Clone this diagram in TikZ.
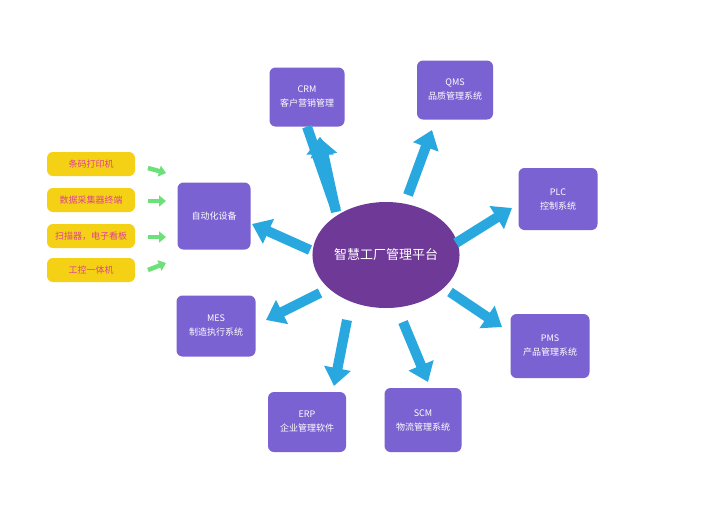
\documentclass[tikz,border=0pt]{standalone}
\usepackage{fontspec}
\setmainfont{Noto Sans CJK SC}
\usetikzlibrary{arrows.meta,shapes.geometric}
\definecolor{boxp}{HTML}{7B62D2}
\definecolor{ellp}{HTML}{6F3A97}
\definecolor{arrb}{HTML}{29A8E0}
\definecolor{yel}{HTML}{F5D116}
\definecolor{mag}{HTML}{E0409A}
\definecolor{grn}{HTML}{6EE07A}
\tikzset{
 sysbox/.style={fill=boxp,draw=none,rounded corners=6pt,text=white,font=\fontsize{9}{14}\selectfont,align=center,minimum width=77pt,minimum height=61pt,inner sep=1pt},
 ybox/.style={fill=yel,rounded corners=6pt,text=mag,font=\fontsize{9}{11}\selectfont,minimum width=88pt,minimum height=24pt,inner sep=1pt},
 bigarr/.style={draw=arrb,line width=10pt,-{Triangle[width=26pt,length=18pt]},shorten >=0pt},
 garr/.style={draw=grn,line width=4.5pt,-{Triangle[width=11pt,length=7pt]}}
}
\begin{document}
\begin{tikzpicture}[x=1pt,y=-1pt]
\useasboundingbox[fill=white] (0,0) rectangle (719,504);
\node[ellipse,fill=ellp,minimum width=138pt,minimum height=106pt,text=white,font=\fontsize{13}{15}\selectfont,inner sep=0] (c) at (386,255) {智慧工厂管理平台};
\node[sysbox,minimum width=75pt,minimum height=59pt] (crm) at (307,97) {CRM\\客户营销管理};
\node[sysbox,minimum width=76pt,minimum height=59pt] (qms) at (455,90) {QMS\\品质管理系统};
\node[sysbox,minimum width=79pt,minimum height=62pt] (plc) at (558,199) {PLC\\控制系统};
\node[sysbox,minimum width=79pt,minimum height=64pt] (pms) at (550,346) {PMS\\产品管理系统};
\node[sysbox,minimum width=77pt,minimum height=64pt] (scm) at (423,420) {SCM\\物流管理系统};
\node[sysbox,minimum width=78pt,minimum height=60pt] (erp) at (307,422) {ERP\\企业管理软件};
\node[sysbox,minimum width=79pt,minimum height=61pt] (mes) at (216,326) {MES\\制造执行系统};
\node[sysbox,minimum width=73pt,minimum height=67pt] (auto) at (214,216) {自动化设备};
\node[ybox] (y1) at (91,164) {条码打印机};
\node[ybox] (y2) at (91,200) {数据采集器终端};
\node[ybox] (y3) at (91,236) {扫描器，电子看板};
\node[ybox] (y4) at (91,270) {工控一体机};
\coordinate (g1a) at (148,168); \coordinate (g1b) at (166,173);
\coordinate (g2a) at (148,201); \coordinate (g2b) at (166,201);
\coordinate (g3a) at (148,237); \coordinate (g3b) at (166,237);
\coordinate (g4a) at (148,270); \coordinate (g4b) at (166,263);
\draw[garr] (g1a) -- (g1b);
\draw[garr] (g2a) -- (g2b);
\draw[garr] (g3a) -- (g3b);
\draw[garr] (g4a) -- (g4b);
\draw[bigarr] (c) ++(-50,-45) coordinate (s1) (s1) -- (crm.south) ++(13,10) coordinate (t1);
\coordinate (a1) at (336,212); \coordinate (b1) at (320,138);
\coordinate (a2) at (408,195); \coordinate (b2) at (432,130);
\coordinate (a3) at (456,243); \coordinate (b3) at (512,208);
\coordinate (a4) at (450,292); \coordinate (b4) at (502,327);
\coordinate (a5) at (403,322); \coordinate (b5) at (428,382);
\coordinate (a6) at (347,320); \coordinate (b6) at (334,386);
\coordinate (a7) at (320,293); \coordinate (b7) at (266,320);
\coordinate (a8) at (310,250); \coordinate (b8) at (252,224);
\foreach \i in {1,...,8}{\draw[bigarr] (a\i) -- (b\i);}
\end{tikzpicture}
\end{document}
